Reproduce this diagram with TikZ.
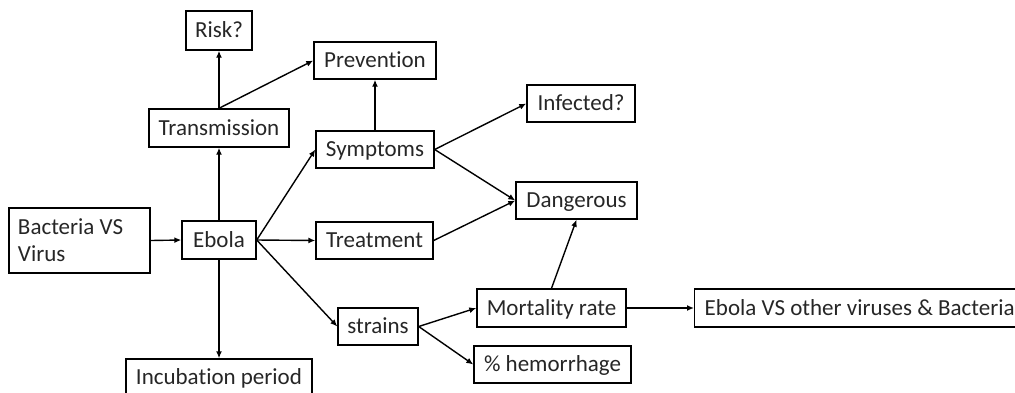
\documentclass[tikz,border=0pt]{standalone}
\usepackage{fontspec}
\setmainfont{Carlito}[Ligatures={NoCommon}]
\usetikzlibrary{arrows.meta}

\begin{document}
\begin{tikzpicture}
[x=.5pt,y=-.5pt,line width=.7pt,font=\fontsize{11.5}{13.5}\selectfont]
\tikzset{box/.style={draw,inner sep=2pt,minimum height=18.5pt,text=black!85,text height=7.2pt,text depth=0pt}}
\tikzset{arr/.style={-{Latex[length=3.5pt,width=3pt]}}}
\useasboundingbox (0,0) rectangle (1015,392);
\clip (0,0) rectangle (1015,392);
\node [box,minimum width=33pt,minimum height=19.5pt] (risk) at (219,30.5) {Risk?};
\node [box,minimum width=61pt] (prev) at (375,60.5) {Prevention};
\node [box,minimum width=70pt,minimum height=19pt] (trans) at (219,128) {Transmission};
\node [box,minimum width=59pt] (symp) at (375,149.5) {Symptoms};
\node [box,minimum width=54pt] (inf) at (581,103.5) {Infected?};
\node [box,minimum width=60.5pt] (dang) at (576.5,200.5) {Dangerous};
\node [box,text height={},text depth={},align=flush left,text width=61.5pt,inner xsep=4.5pt,minimum height=32.5pt] (bac) at (79.5,240.5) {Bacteria VS\\Virus};
\node [box,minimum width=37pt,minimum height=19pt] (ebola) at (219,240) {Ebola};
\node [box,minimum width=58.5pt] (treat) at (374.5,240.5) {Treatment};
\node [box,minimum width=40pt] (strains) at (378,326.5) {strains};
\node [box,minimum width=93pt] (incub) at (219,377.5) {Incubation period};
\node [box,minimum width=74.5pt,minimum height=19pt] (mort) at (551.5,308) {Mortality rate};
\node [box,minimum width=78.5pt] (hem) at (552.5,364.5) {\% hemorrhage};
\node [box,anchor=west,minimum width=165pt,minimum height=19pt] (evs) at (694,308) {Ebola VS other viruses \& Bacteria};

\foreach \from/\to in {trans.north/risk.south,trans.north/prev.west,symp.north/prev.south,
  ebola.north/trans.south,bac.east/ebola.west,ebola.east/symp.west,ebola.east/treat.west,
  ebola.east/strains.west,ebola.south/incub.north,symp.east/inf.west,symp.east/dang.west,
  treat.east/dang.west,mort.north/dang.south,strains.east/mort.west,strains.east/hem.west,
  mort.east/evs.west}
	\draw [arr] (\from) -- (\to);

\end{tikzpicture}
\end{document}
